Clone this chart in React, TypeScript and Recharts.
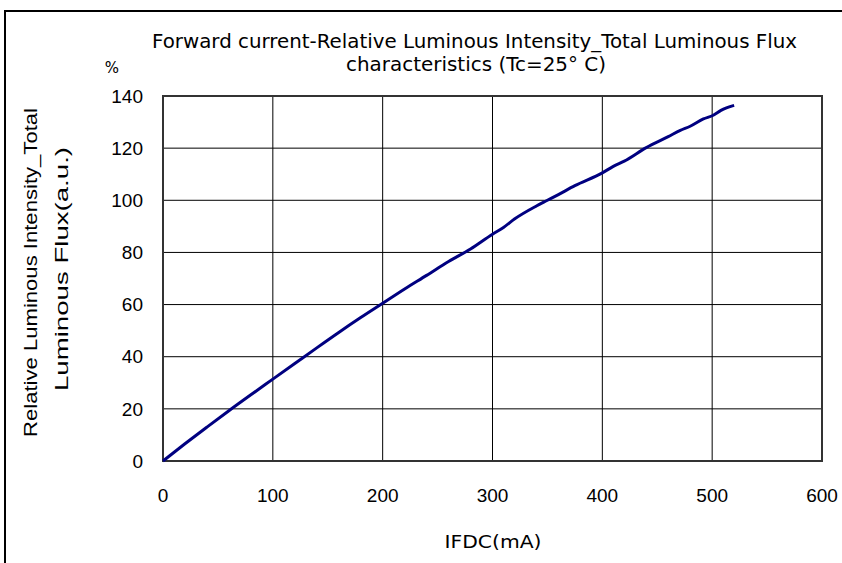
import React from "react";
import { LineChart, Line, XAxis, YAxis, CartesianGrid, ReferenceArea } from "recharts";

const currentMA = [0, 20, 40, 60, 80, 100, 120, 140, 160, 180, 200, 220, 240, 260, 280, 300, 310, 320, 340, 350, 360, 375, 400, 410, 420, 440, 460, 471, 480, 492, 501, 508, 520];
const relFlux = [0, 6.6, 13, 19.3, 25.4, 31.4, 37.4, 43.4, 49.3, 55, 60.5, 66, 71.2, 76.5, 81.3, 87, 89.6, 92.8, 97.8, 100, 102.2, 105.6, 110.5, 113, 115, 120.2, 124.4, 126.8, 128.4, 131.2, 132.6, 134.5, 136.4];
const xTicks = [0, 100, 200, 300, 400, 500, 600];
const yTicks = [0, 20, 40, 60, 80, 100, 120, 140];

const data = currentMA.map((x, i) => ({ x, y: relFlux[i] }));

const W = 842;
const H = 563;
const tickFont = { fill: "#000", fontSize: 19, fontFamily: "Liberation Sans, Arial, sans-serif" };

export default function App() {
  return (
    <div style={{ position: "absolute", left: 0, top: 0, width: W, height: H, background: "#fff" }}>
      <LineChart
        width={W}
        height={H}
        data={data}
        margin={{ top: 96, right: 20, bottom: 42, left: 103 }}
      >
        <CartesianGrid stroke="#000" strokeWidth={1} strokeDasharray="" />
        <XAxis
          dataKey="x"
          type="number"
          domain={[0, 600]}
          ticks={xTicks}
          height={60}
          axisLine={false}
          tickLine={false}
          tickSize={0}
          tickMargin={28}
          tick={tickFont}
          interval={0}
        />
        <YAxis
          type="number"
          domain={[0, 140]}
          ticks={yTicks}
          width={60}
          axisLine={false}
          tickLine={false}
          tickSize={0}
          tickMargin={20}
          tick={tickFont}
          interval={0}
        />
        <ReferenceArea x1={0} x2={600} y1={0} y2={140} fill="none" fillOpacity={0} stroke="#333" strokeWidth={2} />
        <Line
          dataKey="y"
          type="monotone"
          stroke="#000080"
          strokeWidth={3}
          dot={false}
          isAnimationActive={false}
        />
      </LineChart>
      <svg
        width={W}
        height={H}
        style={{ position: "absolute", left: 0, top: 0, pointerEvents: "none" }}
      >
        <rect x={5} y={11} width={850} height={560} fill="none" stroke="#000" strokeWidth={2} />
        <text
          x={474.5}
          y={47.5}
          textAnchor="middle"
          fontSize={19}
          fontFamily="DejaVu Sans, sans-serif"
          textLength={645}
          lengthAdjust="spacingAndGlyphs"
          fill="#000"
        >
          Forward current-Relative Luminous Intensity_Total Luminous Flux
        </text>
        <text
          x={476}
          y={71}
          textAnchor="middle"
          fontSize={19}
          fontFamily="DejaVu Sans, sans-serif"
          textLength={260}
          lengthAdjust="spacingAndGlyphs"
          fill="#000"
        >
          characteristics (Tc=25° C)
        </text>
        <text x={112} y={73} textAnchor="middle" fontSize={15} fontFamily="DejaVu Sans, sans-serif" fill="#000">
          %
        </text>
        <text
          x={493}
          y={548}
          textAnchor="middle"
          fontSize={18}
          fontFamily="DejaVu Sans, sans-serif"
          textLength={97}
          lengthAdjust="spacingAndGlyphs"
          fill="#000"
        >
          IFDC(mA)
        </text>
        <text
          transform="translate(37,272.5) rotate(-90)"
          textAnchor="middle"
          fontSize={18}
          fontFamily="Liberation Sans, Arial, sans-serif"
          textLength={329}
          lengthAdjust="spacingAndGlyphs"
          fill="#000"
        >
          Relative Luminous Intensity_Total
        </text>
        <text
          transform="translate(68,269) rotate(-90)"
          textAnchor="middle"
          fontSize={19}
          fontFamily="Liberation Sans, Arial, sans-serif"
          textLength={244}
          lengthAdjust="spacingAndGlyphs"
          fill="#000"
        >
          Luminous Flux(a.u.)
        </text>
      </svg>
    </div>
  );
}
